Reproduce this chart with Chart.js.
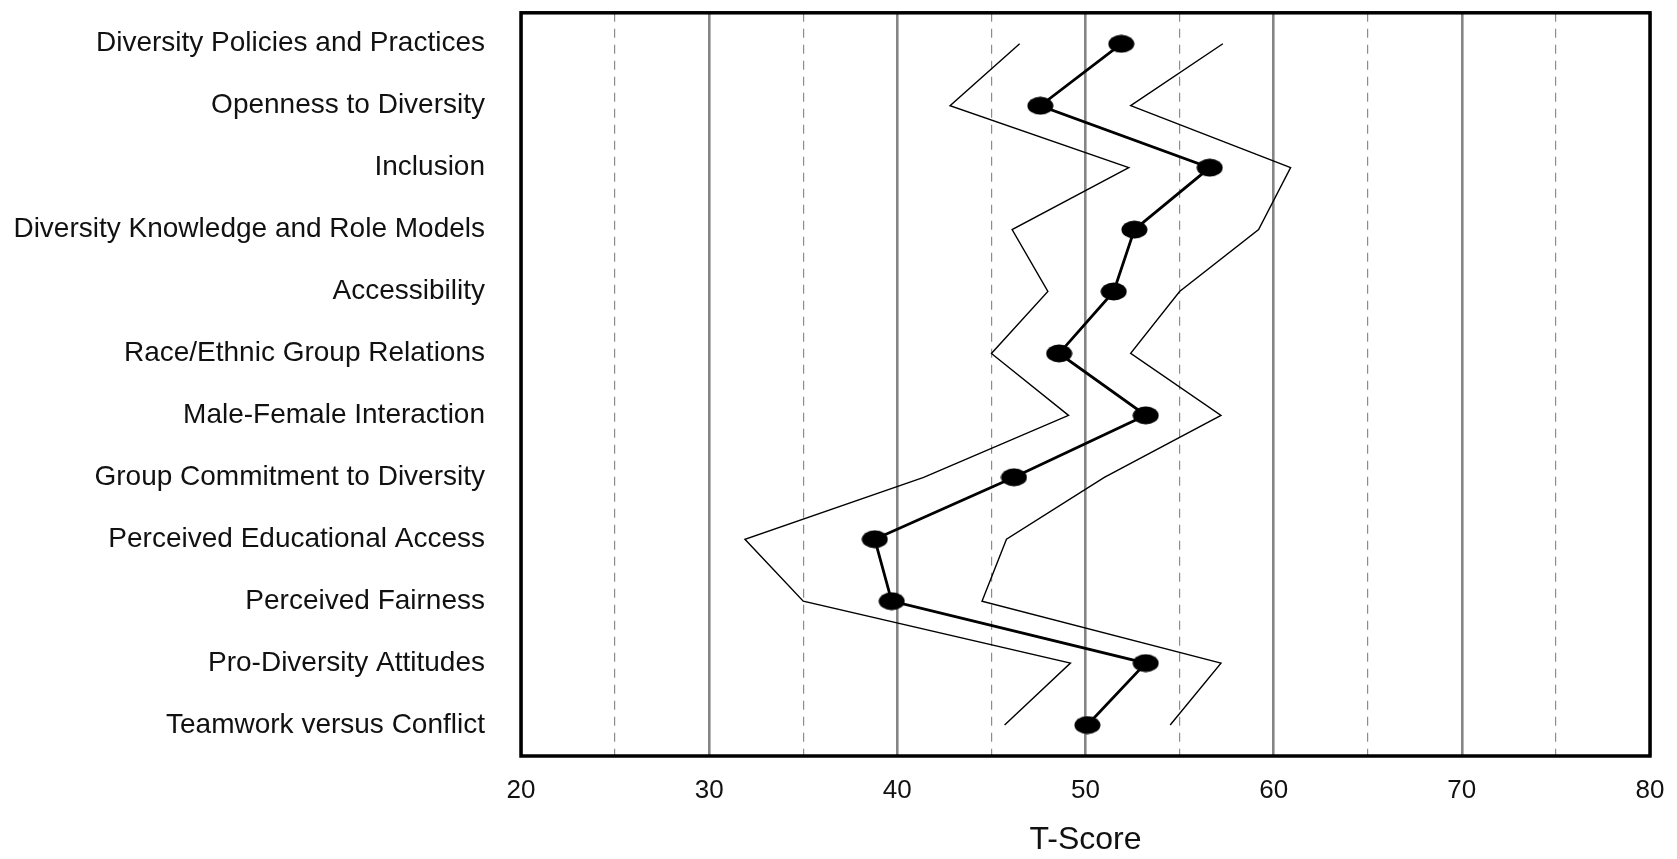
<!DOCTYPE html>
<html>
<head>
<meta charset="utf-8">
<script src="https://cdn.jsdelivr.net/npm/chart.js@4/dist/chart.umd.min.js"></script>
<style>
  html, body { margin: 0; padding: 0; background: #fff; }
  #wrap { width: 1677px; height: 859px; position: relative; }
</style>
</head>
<body>
<div id="wrap"><canvas id="chart_tscore"></canvas></div>
<script>
var scales_names = [
  'Diversity Policies and Practices',
  'Openness to Diversity',
  'Inclusion',
  'Diversity Knowledge and Role Models',
  'Accessibility',
  'Race/Ethnic Group Relations',
  'Male-Female Interaction',
  'Group Commitment to Diversity',
  'Perceived Educational Access',
  'Perceived Fairness',
  'Pro-Diversity Attitudes',
  'Teamwork versus Conflict'
];

var mean_scores  = [51.9, 47.6, 56.6, 52.6, 51.5, 48.6, 53.2, 46.2, 38.8, 39.7, 53.2, 50.1];
var lower_bounds = [46.5, 42.8, 52.3, 46.1, 48.0, 45.0, 49.1, 41.4, 31.9, 35.0, 49.2, 45.7];
var upper_bounds = [57.3, 52.4, 60.9, 59.2, 55.0, 52.4, 57.2, 51.0, 45.8, 44.5, 57.2, 54.5];

var x_min = 20, x_max = 80;

// black ellipse marker
var dot = document.createElement('canvas');
dot.width = 27; dot.height = 19;
var dctx = dot.getContext('2d');
dctx.fillStyle = '#000';
dctx.beginPath();
dctx.ellipse(13.5, 9.5, 13, 9, 0, 0, Math.PI * 2);
dctx.fill();

var frame = {
  id: 'frame',
  afterDraw: function (chart) {
    var a = chart.chartArea, ctx = chart.ctx;
    ctx.save();
    ctx.strokeStyle = '#000';
    ctx.lineWidth = 3.5;
    ctx.strokeRect(a.left, a.top, a.right - a.left, a.bottom - a.top);
    ctx.restore();
  }
};

var data = {
  labels: scales_names,
  datasets: [{
    label: 'Lower',
    data: lower_bounds,
    borderColor: '#000',
    borderWidth: 1.4,
    pointRadius: 0,
    tension: 0
  }, {
    label: 'Upper',
    data: upper_bounds,
    borderColor: '#000',
    borderWidth: 1.4,
    pointRadius: 0,
    tension: 0
  }, {
    label: 'T-Score',
    data: mean_scores,
    borderColor: '#000',
    backgroundColor: '#000',
    borderWidth: 2.8,
    pointStyle: dot,
    pointRadius: 10,
    tension: 0
  }]
};

var config = {
  type: 'line',
  data: data,
  options: {
    indexAxis: 'y',
    responsive: true,
    maintainAspectRatio: false,
    animation: false,
    layout: { padding: { top: 8, right: 27, left: 0, bottom: 0 } },
    plugins: {
      legend: { display: false },
      tooltip: { enabled: false }
    },
    scales: {
      x: {
        type: 'linear',
        min: x_min,
        max: x_max,
        afterFit: function (s) {
          s.height = 103;
          s.paddingLeft = 0;
          s.paddingRight = 0;
        },
        border: {
          display: false,
          dash: function (c) { return (c.tick && c.tick.value % 10 !== 0) ? [9, 7] : []; }
        },
        grid: {
          drawTicks: false,
          color: function (c) { return (c.tick && c.tick.value % 10 !== 0) ? '#8c8c8c' : '#858585'; },
          lineWidth: function (c) { return (c.tick && c.tick.value % 10 !== 0) ? 1.2 : 2.6; }
        },
        ticks: {
          stepSize: 5,
          padding: 19,
          color: '#111',
          font: { family: '"Liberation Sans", Arial, sans-serif', size: 26 },
          callback: function (v) { return v % 10 === 0 ? String(v) : ''; }
        },
        title: {
          display: true,
          text: 'T-Score',
          color: '#111',
          font: { family: '"Liberation Sans", Arial, sans-serif', size: 32 },
          padding: { top: 0, bottom: 0 }
        }
      },
      y: {
        type: 'category',
        offset: true,
        afterFit: function (s) {
          s.width = 521;
          s.paddingTop = 0;
          s.paddingBottom = 0;
        },
        border: { display: false },
        grid: { display: false, drawTicks: false },
        ticks: {
          padding: 36,
          color: '#111',
          autoSkip: false,
          font: { family: '"Liberation Sans", Arial, sans-serif', size: 28 }
        }
      }
    }
  },
  plugins: [frame]
};

new Chart(document.getElementById('chart_tscore'), config);
</script>
</body>
</html>
